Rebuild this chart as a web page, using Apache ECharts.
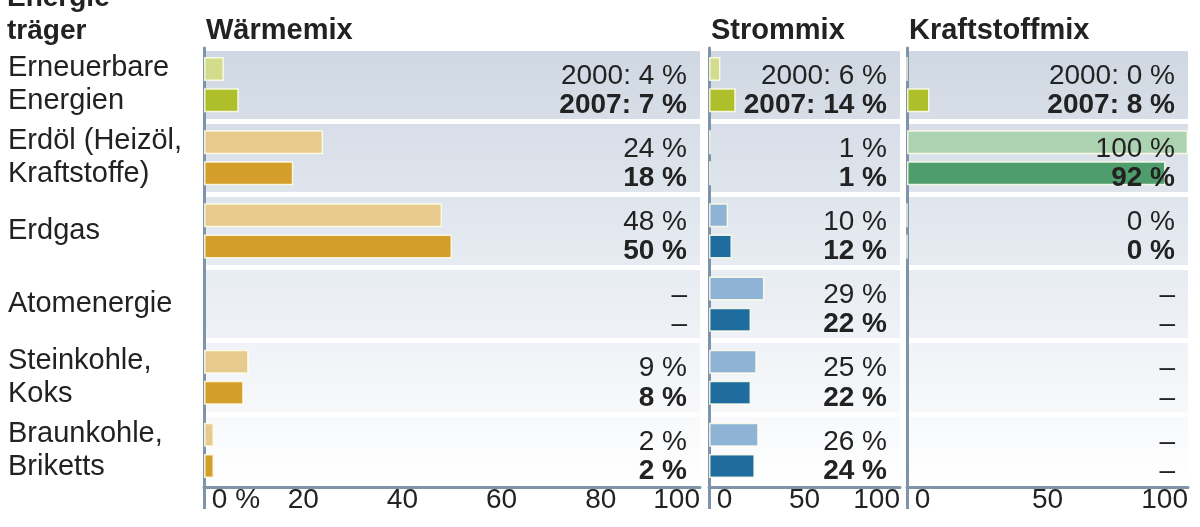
<!DOCTYPE html>
<html>
<head>
<meta charset="utf-8">
<script src="https://cdn.jsdelivr.net/npm/echarts@6/dist/echarts.min.js"></script>
<style>
html,body{margin:0;padding:0;background:#fff;}
#chart{width:1200px;height:527px;}
</style>
</head>
<body>
<div id="chart"></div>
<script>
// ---- data ----
const categories = ['Erneuerbare\nEnergien', 'Erdöl (Heizöl,\nKraftstoffe)', 'Erdgas', 'Atomenergie', 'Steinkohle,\nKoks', 'Braunkohle,\nBriketts'];
const years = ['2000', '2007'];
const panelTitles = ['Wärmemix', 'Strommix', 'Kraftstoffmix'];
const leftTitle = 'Energie-\nträger';
const waerme2000 = [4, 24, 48, null, 9, 2];
const waerme2007 = [7, 18, 50, null, 8, 2];
const strom2000 = [6, 1, 10, 29, 25, 26];
const strom2007 = [14, 1, 12, 22, 22, 24];
const kraft2000 = [0, 100, 0, null, null, null];
const kraft2007 = [8, 92, 0, null, null, null];
const xTicks = [[0, 20, 40, 60, 80, 100], [0, 50, 100], [0, 50, 100]];

// ---- styles ----
const FONT = 'Liberation Sans';
const TXT = '#222';
const AXIS = '#7f93ab';
const eeColors = ['#d2dc8c', '#afbf2c'];
const panelColors = [
  ['#e7cb8e', '#d49e2a'],
  ['#8fb3d4', '#1f6d9f'],
  ['#acd3b1', '#4f9d6c']
];
const grids = [
  { left: 204, top: 48, width: 496, height: 439 },
  { left: 709, top: 48, width: 191, height: 439 },
  { left: 907, top: 48, width: 281, height: 439 }
];
const panelData = [[waerme2000, waerme2007], [strom2000, strom2007], [kraft2000, kraft2007]];

const bgGradient = {
  type: 'linear', x: 0, y: 0, x2: 0, y2: 1,
  colorStops: [
    { offset: 0, color: '#cfd7e2' },
    { offset: 0.5, color: '#e7ecf2' },
    { offset: 1, color: '#ffffff' }
  ]
};

const option = {
  animation: false,
  backgroundColor: '#ffffff',
  title: [
    { text: leftTitle, left: 7, top: -18, padding: 0,
      textStyle: { fontFamily: FONT, fontWeight: 'bold', fontSize: 28, lineHeight: 33, color: TXT } }
  ].concat(panelTitles.map((t, i) => ({
    text: t, left: grids[i].left + 2, top: 14, padding: 0,
    textStyle: { fontFamily: FONT, fontWeight: 'bold', fontSize: 29, lineHeight: 33, color: TXT }
  }))),
  grid: grids.map(g => Object.assign({ show: true, borderWidth: 0, backgroundColor: bgGradient, containLabel: false }, g)),
  xAxis: grids.map((g, i) => ({
    type: 'value', gridIndex: i, min: 0, max: 100, interval: xTicks[i][1] - xTicks[i][0],
    position: 'bottom', z: 3,
    axisLine: { show: true, lineStyle: { color: AXIS, width: 3 } },
    axisTick: { show: true, customValues: [0], length: 22, lineStyle: { color: AXIS, width: 3 } },
    splitLine: { show: false },
    axisLabel: {
      show: true, fontFamily: FONT, fontSize: 28, color: TXT, margin: -1,
      alignMinLabel: 'left', alignMaxLabel: 'right',
      formatter: v => v === 0 ? (i === 0 ? '\u00a00 %' : '\u00a00') : String(v)
    }
  })),
  yAxis: [],
  series: []
};

grids.forEach((g, i) => {
  // visible category axis
  option.yAxis.push({
    type: 'category', gridIndex: i, data: categories, inverse: true,
    axisLine: { show: true, lineStyle: { color: AXIS, width: 3 } },
    axisTick: { show: false },
    splitLine: { show: true, interval: 0, lineStyle: { color: '#ffffff', width: 5 } },
    axisLabel: i === 0 ? {
      show: true, interval: 0, showMinLabel: true, showMaxLabel: true, hideOverlap: false,
      align: 'left', margin: 196, fontFamily: FONT, fontSize: 29, lineHeight: 33, color: TXT,
      padding: [8, 0, 0, 0]
    } : { show: false }
  });
  // hidden axis carrying the value labels
  option.yAxis.push({
    type: 'category', gridIndex: i, data: categories, inverse: true, show: false
  });
  const [d0, d1] = panelData[i];
  [d0, d1].forEach((d, k) => {
    option.series.push({
      type: 'bar', name: years[k], xAxisIndex: i, yAxisIndex: i * 2,
      barWidth: 24, barGap: '30%', silent: true,
      data: d.map((v, r) => ({
        value: v,
        itemStyle: {
          color: r === 0 ? eeColors[k] : panelColors[i][k],
          borderColor: 'rgba(255,255,235,0.85)', borderWidth: 1.5
        }
      }))
    });
  });
  [d0, d1].forEach((d, k) => {
    option.series.push({
      type: 'bar', name: years[k] + ' label', xAxisIndex: i, yAxisIndex: i * 2 + 1,
      barWidth: 24, barGap: '30%', silent: true, z: 5,
      itemStyle: { color: 'rgba(0,0,0,0)' },
      data: d.map(() => 100),
      label: {
        show: true, position: 'insideRight', distance: 13, offset: [0, k === 0 ? 7 : 5],
        fontFamily: FONT, fontSize: 28, color: TXT, fontWeight: k === 1 ? 'bold' : 'normal',
        rich: { n: { fontFamily: FONT, fontSize: 28, color: TXT, fontWeight: 'normal' } },
        formatter: p => {
          const v = d[p.dataIndex];
          if (v === null) return '{n|\u2013}';
          return (p.dataIndex === 0 ? years[k] + ': ' : '') + v + ' %';
        }
      }
    });
  });
});

const chart = echarts.init(document.getElementById('chart'), null, { renderer: 'canvas' });
chart.setOption(option);
</script>
</body>
</html>
